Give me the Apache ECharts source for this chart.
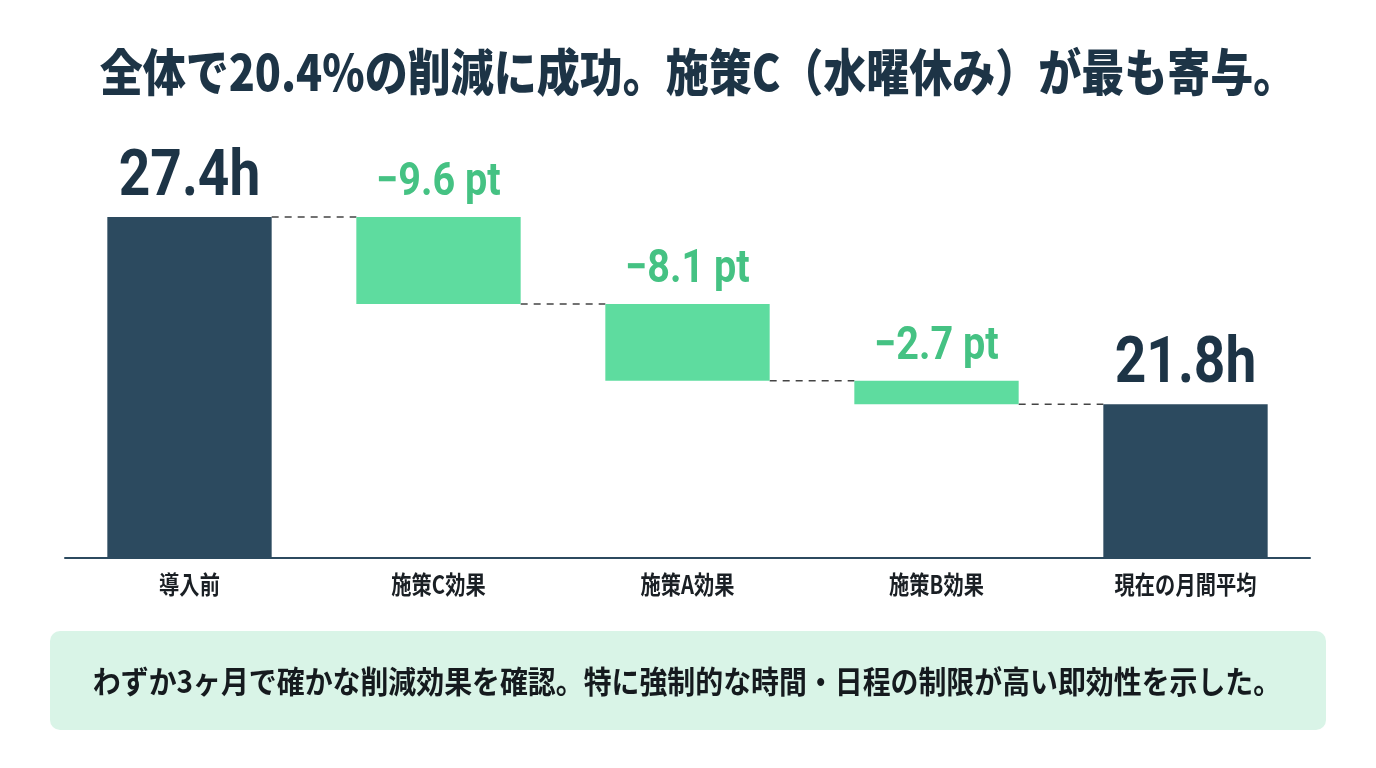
<!DOCTYPE html>
<html><head><meta charset="utf-8">
<script src="https://cdn.jsdelivr.net/npm/echarts@6/dist/echarts.min.js"></script>
<style>html,body{margin:0;padding:0;background:#fff}#c{width:1376px;height:768px}</style>
</head><body><div id="c"></div>
<script>
const titleText = '全体で20.4%の削減に成功。施策C（水曜休み）が最も寄与。';
const noteText = 'わずか3ヶ月で確かな削減効果を確認。特に強制的な時間・日程の制限が高い即効性を示した。';
const categories = ['導入前', '施策C効果', '施策A効果', '施策B効果', '現在の月間平均'];
const startHours = 27.4;
const endHours = 21.8;
const stepPt = [-9.6, -8.1, -2.7];
const stepHours = [-2.6, -2.3, -0.7];
const valueLabels = ['27.4h', '−9.6 pt', '−8.1 pt', '−2.7 pt', '21.8h'];
const axisMin = 17.2, axisMax = 30;

const DARK = '#2c4a5f', GREEN = '#5edc9f', GREEN_TXT = '#45c283', TITLE = '#1d3446';
const CJK = '"Noto Sans CJK JP", "Noto Sans", sans-serif';

// build waterfall rows: [index, low, high, kind]
const levels = [startHours];
stepHours.forEach(d => levels.push(+(levels[levels.length - 1] + d).toFixed(2)));
const barData = [];
barData.push([0, axisMin, startHours, 0]);
stepHours.forEach((d, k) => barData.push([k + 1, levels[k + 1], levels[k], 1]));
barData.push([categories.length - 1, axisMin, endHours, 0]);
const connData = levels.map((lv, k) => [k, lv]);

const chart = echarts.init(document.getElementById('c'));
chart.setOption({
  backgroundColor: '#fff',
  animation: false,
  grid: { left: 65, right: 66, top: 130, bottom: 210 },
  xAxis: {
    type: 'category', data: categories,
    axisLine: { lineStyle: { color: '#2c4a5f', width: 2 } },
    axisTick: { show: false }, axisLabel: { show: false }
  },
  yAxis: { type: 'value', min: axisMin, max: axisMax, show: false, splitLine: { show: false } },
  graphic: [
    { type: 'text', x: 698, y: 72, scaleX: 0.86,
      style: { text: titleText, align: 'center', verticalAlign: 'middle', fill: TITLE,
        font: '900 50px ' + CJK } },
    { type: 'rect', shape: { x: 50, y: 631, width: 1276, height: 99, r: 10 },
      style: { fill: '#d9f4e7' } },
    { type: 'text', x: 687, y: 681, scaleX: 0.9,
      style: { text: noteText, align: 'center', verticalAlign: 'middle', fill: '#151a1e',
        font: 'bold 31px ' + CJK } }
  ],
  series: [
    {
      type: 'custom', data: connData, z: 1,
      renderItem: function (params, api) {
        const i = api.value(0);
        if (i >= categories.length - 1) return null;
        const lv = api.value(1);
        const w = api.size([1, 0])[0] * 0.66;
        const a = api.coord([i, lv]), b = api.coord([i + 1, lv]);
        return { type: 'line', shape: { x1: a[0] + w / 2, y1: a[1], x2: b[0] - w / 2, y2: b[1] },
          style: { stroke: '#444', lineWidth: 1.5, lineDash: [7, 6] } };
      }
    },
    {
      type: 'custom', data: barData, z: 2,
      renderItem: function (params, api) {
        const i = api.value(0), lo = api.value(1), hi = api.value(2), kind = api.value(3);
        const w = api.size([1, 0])[0] * 0.66;
        const pHi = api.coord([i, hi]), pLo = api.coord([i, lo]);
        const base = api.coord([i, axisMin]);
        const isTotal = kind === 0;
        return {
          type: 'group',
          children: [
            { type: 'rect', shape: { x: pHi[0] - w / 2, y: pHi[1], width: w, height: pLo[1] - pHi[1] },
              style: { fill: isTotal ? DARK : GREEN } },
            { type: 'text', x: pHi[0], y: pHi[1] - (isTotal ? 6 : 10), scaleX: 0.86,
              style: { text: valueLabels[i], align: 'center', verticalAlign: 'bottom',
                fill: isTotal ? TITLE : GREEN_TXT,
                font: 'bold ' + (isTotal ? 64 : 46) + 'px Roboto, sans-serif' } },
            { type: 'text', x: base[0], y: base[1] + 26, scaleX: 0.81,
              style: { text: categories[i], align: 'center', verticalAlign: 'middle',
                fill: '#1a1f24', font: 'bold 25px ' + CJK } }
          ]
        };
      }
    }
  ]
});
</script>
</body></html>
